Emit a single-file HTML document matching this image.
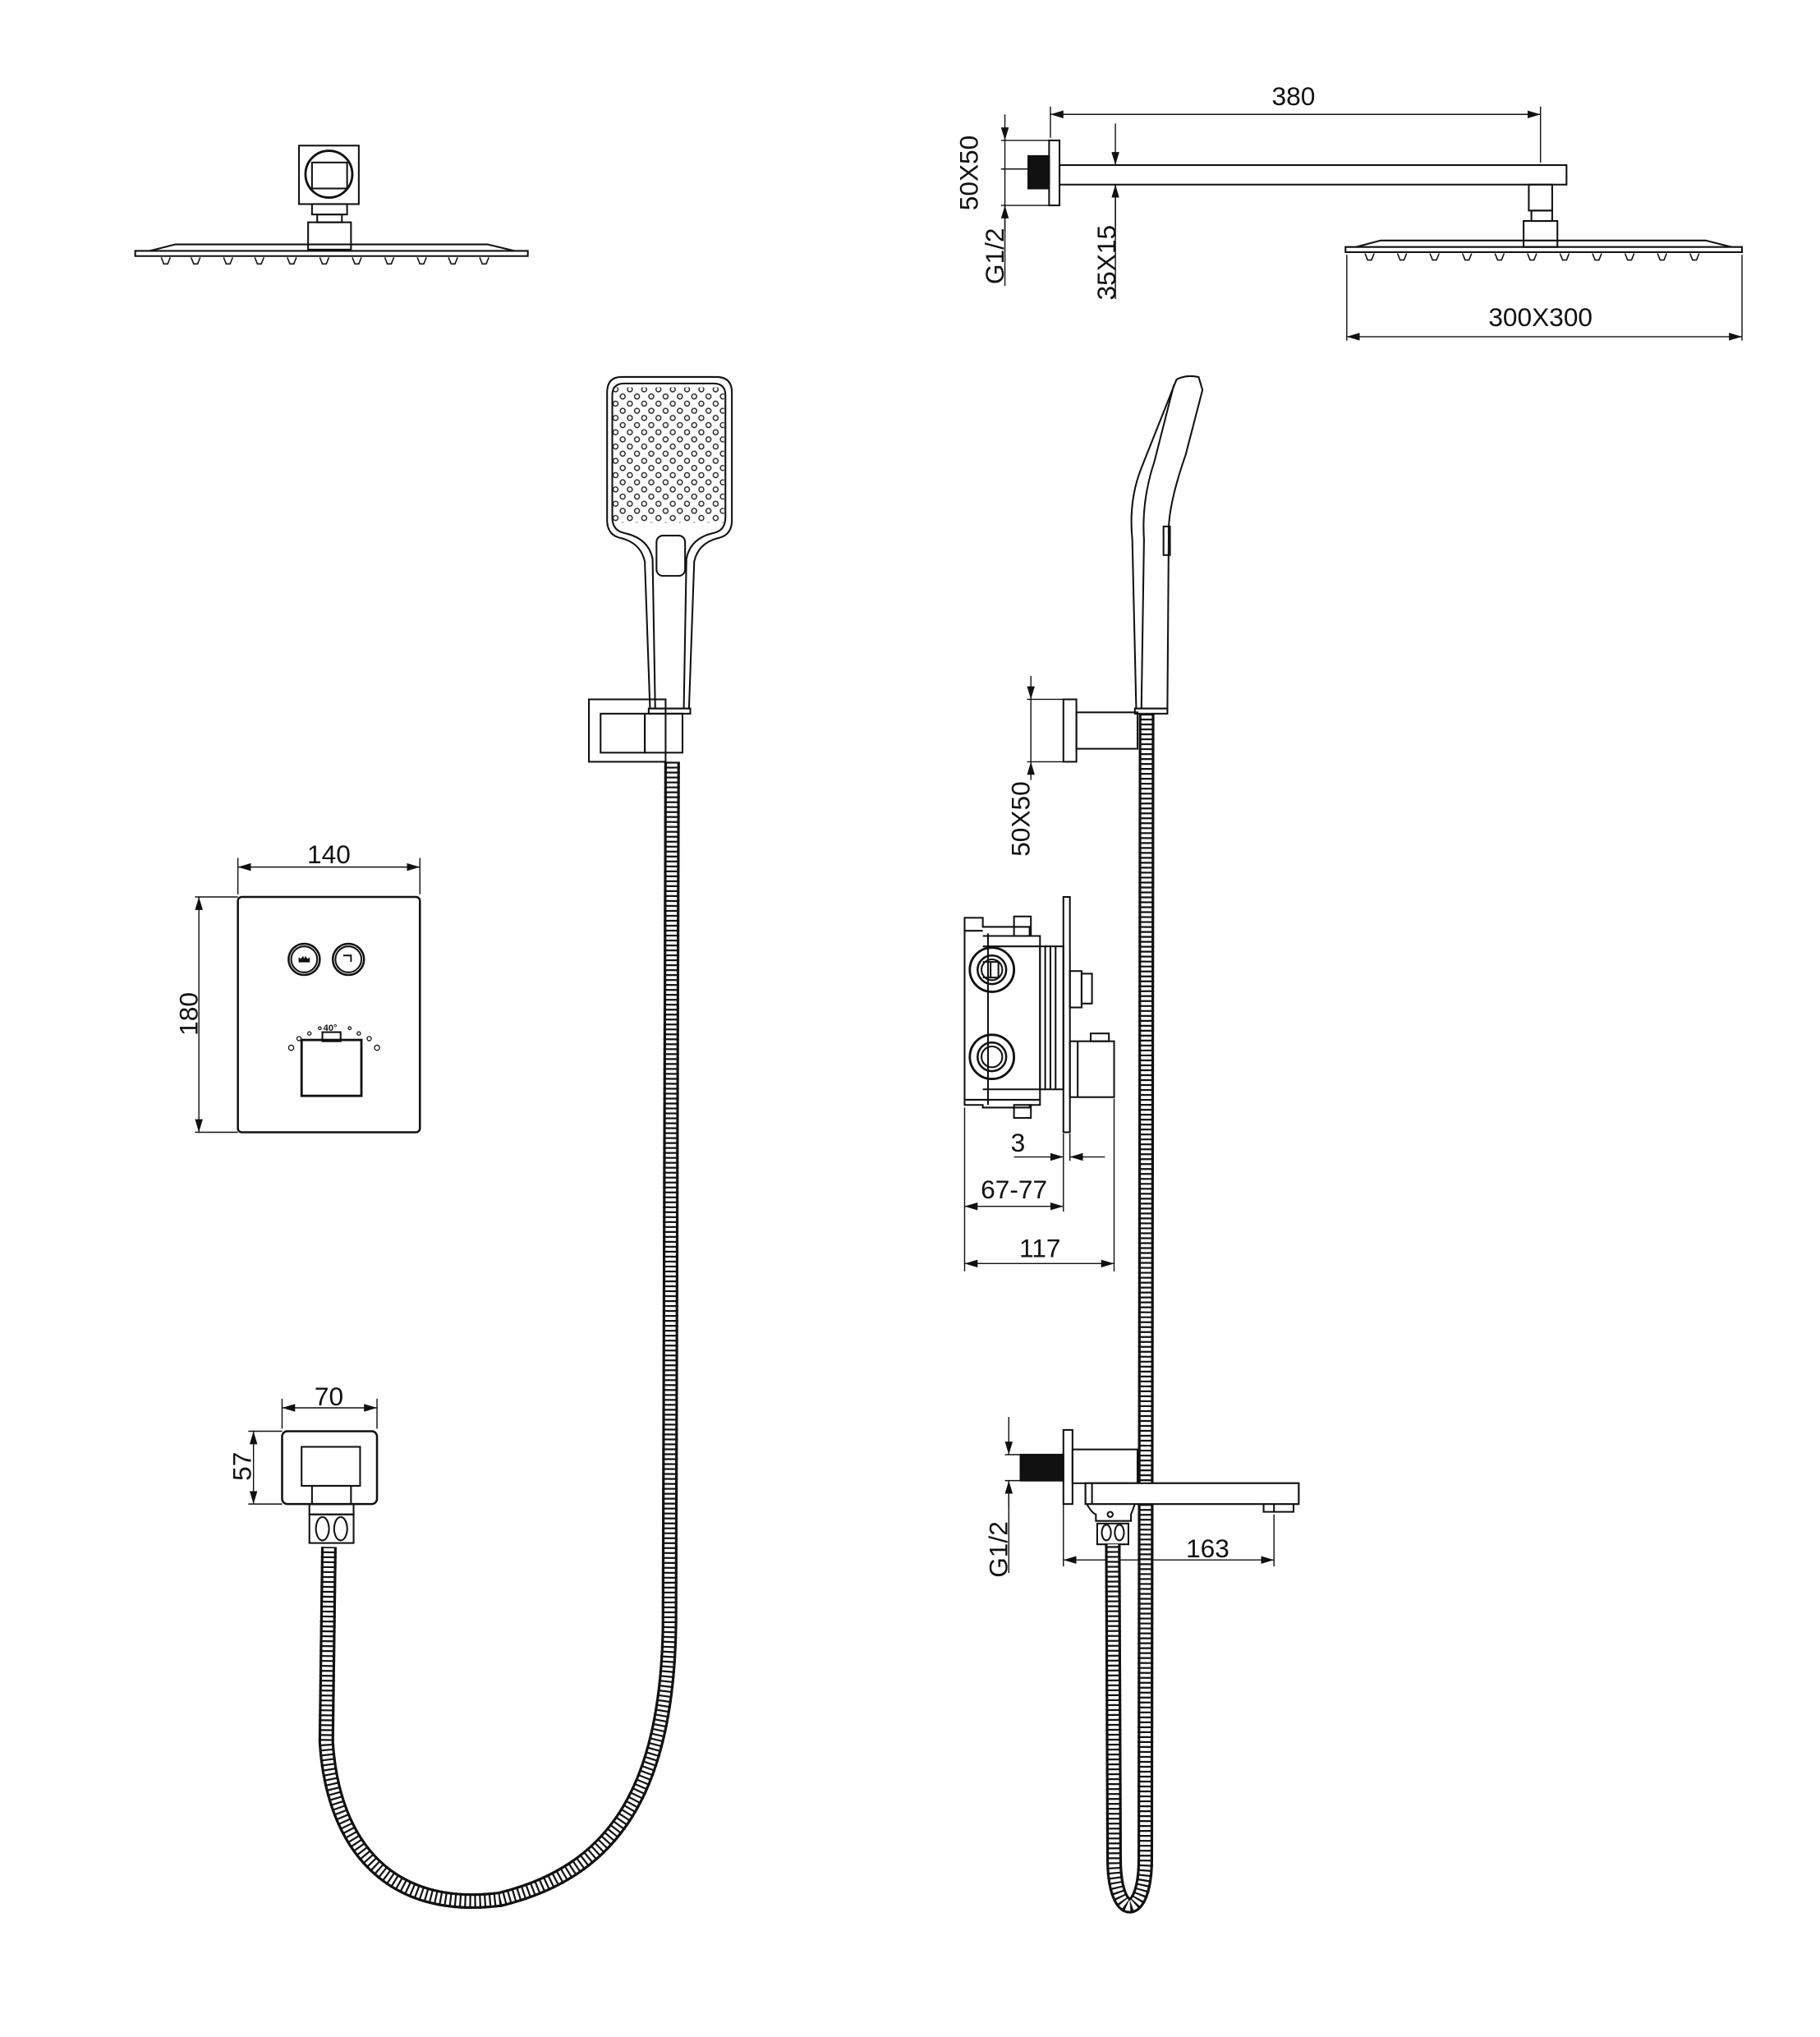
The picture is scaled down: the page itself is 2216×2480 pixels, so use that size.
<!DOCTYPE html>
<html><head><meta charset="utf-8"><style>
html,body{margin:0;padding:0;background:#fff}
svg{display:block}
text{font-family:"Liberation Sans",sans-serif;fill:#111}
</style></head><body>
<svg width="2216" height="2480" viewBox="0 0 1400 1567" preserveAspectRatio="none" xmlns="http://www.w3.org/2000/svg">
<defs>
<marker id="a" viewBox="0 0 10 6" refX="10" refY="3" markerWidth="10" markerHeight="6" markerUnits="userSpaceOnUse" orient="auto-start-reverse"><path d="M0,0 L10,3 L0,6z" fill="#111"/></marker>
<pattern id="dots" x="471" y="297" width="11" height="11" patternUnits="userSpaceOnUse">
<circle cx="2.5" cy="2.5" r="1.9" fill="none" stroke="#222" stroke-width="0.9"/>
<circle cx="8" cy="8" r="1.9" fill="none" stroke="#222" stroke-width="0.9"/>
</pattern>
</defs>
<g fill="none" stroke="#111" stroke-width="1.3">

<!-- top-left rain shower front -->
<rect x="230" y="112" width="46" height="45"/>
<circle cx="253" cy="134" r="18" stroke-width="1.8"/>
<rect x="240" y="125" width="27" height="20"/>
<rect x="240" y="157" width="27" height="8"/>
<rect x="244" y="165" width="19" height="6"/>
<rect x="237" y="171" width="33" height="21"/>
<path d="M104,193 H406 V197 H104Z"/>
<path d="M115,193 L135,188 H375 L396,193"/>
<g stroke-width="1">
<path d="M124,198 l2,5 h3 l2,-5 M147,198 l2,5 h3 l2,-5 M172,198 l2,5 h3 l2,-5 M196,198 l2,5 h3 l2,-5 M221,198 l2,5 h3 l2,-5 M246,198 l2,5 h3 l2,-5 M271,198 l2,5 h3 l2,-5 M296,198 l2,5 h3 l2,-5 M321,198 l2,5 h3 l2,-5 M345,198 l2,5 h3 l2,-5 M369,198 l2,5 h3 l2,-5"/>
</g>

<!-- top-right arm -->
<rect x="807" y="108" width="8" height="50"/>
<rect x="791" y="120" width="16" height="25" fill="#111"/>
<rect x="815" y="127" width="390" height="15"/>
<rect x="1176" y="142" width="18" height="20"/>
<rect x="1178" y="162" width="16" height="8"/>
<rect x="1172" y="170" width="26" height="20"/>
<path d="M1035,190 H1340 V194 H1035Z"/>
<path d="M1043,190 L1062,185 H1312 L1332,190"/>
<g stroke-width="1">
<path d="M1050,195 l2,5 h3 l2,-5 M1075,195 l2,5 h3 l2,-5 M1100,195 l2,5 h3 l2,-5 M1125,195 l2,5 h3 l2,-5 M1150,195 l2,5 h3 l2,-5 M1175,195 l2,5 h3 l2,-5 M1200,195 l2,5 h3 l2,-5 M1225,195 l2,5 h3 l2,-5 M1250,195 l2,5 h3 l2,-5 M1275,195 l2,5 h3 l2,-5 M1300,195 l2,5 h3 l2,-5"/>
</g>
<g stroke-width="0.9">
<path d="M808,106 V82 M1185,125 V82"/>
<path d="M808,88 H1185" marker-start="url(#a)" marker-end="url(#a)"/>
<path d="M770,108 H807 M770,158 H807 M770,130 H791"/>
<path d="M773,88 V108" marker-end="url(#a)"/><path d="M773,178 V158" marker-end="url(#a)"/>
<path d="M773,108 V158"/>
<path d="M773,158 V220"/>
<path d="M858,95 V127" marker-end="url(#a)"/><path d="M858,175 V142" marker-end="url(#a)"/>
<path d="M858,142 V230"/>
<path d="M1036,196 V262 M1340,196 V262"/>
<path d="M1036,259 H1340" marker-start="url(#a)" marker-end="url(#a)"/>
</g>

<!-- hand shower front -->
<path d="M478,290 H551 Q563,290 563,302 V400 Q563,412 552,414 Q537,418 534,432 L530,545 H500 L496,432 Q493,418 478,414 Q467,412 467,400 V302 Q467,290 478,290Z"/>
<path d="M480,295 H549 Q558,295 558,304 V398 Q558,408 549,410 Q531,414 528,430 L526,545 M480,295 Q471,295 471,304 V398 Q471,408 480,410 Q499,414 502,430 L504,545"/>
<rect x="471" y="298" width="86" height="104" fill="url(#dots)" stroke="none"/>
<rect x="505" y="412" width="22" height="31" rx="5"/>
<rect x="499" y="545" width="32" height="4"/>
<rect x="453" y="538" width="59" height="48"/>
<rect x="462" y="549" width="34" height="30"/>
<rect x="496" y="549" width="29" height="30"/>

<!-- hand shower side -->
<path d="M871,415 Q868,385 878,360 L905,292 Q912,288 922,290 L925,300 L912,350 Q898,390 899,412 L898,545 H874 Z"/>
<path d="M903,296 L888,355 Q878,385 880,415 L878,545"/>
<rect x="895" y="405" width="5" height="22"/>
<rect x="873" y="545" width="25" height="4"/>
<rect x="818" y="538" width="10" height="48"/>
<rect x="828" y="548" width="47" height="28"/>
<g stroke-width="0.9">
<path d="M793,520 V538" marker-end="url(#a)"/><path d="M793,600 V586" marker-end="url(#a)"/>
<path d="M793,538 V586 M790,538 H818 M790,586 H818"/>
</g>

<!-- control panel -->
<rect x="183" y="690" width="140" height="181" rx="3" stroke-width="1.6"/>
<circle cx="234" cy="738" r="12" stroke-width="1.6"/><circle cx="234" cy="738" r="10"/>
<circle cx="268" cy="738" r="12" stroke-width="1.6"/><circle cx="268" cy="738" r="10"/>
<path d="M230,740 h8 v-3 l-1.5,1 -1.5,-2 -1,2 -1,-2 -1.5,2 -1.5,-1z" fill="#111" stroke-width="0.6"/>
<path d="M264,735 h6 v5" stroke-width="1.2"/>
<rect x="232" y="800" width="46" height="43" stroke-width="1.8"/>
<rect x="248" y="794" width="14" height="7"/>
<g stroke-width="0.8"><circle cx="224" cy="806" r="2"/><circle cx="230" cy="799" r="1.6"/><circle cx="238" cy="795" r="1.3"/><circle cx="246" cy="791" r="1.1"/><circle cx="269" cy="791" r="1.1"/><circle cx="276" cy="795" r="1.3"/><circle cx="284" cy="799" r="1.6"/><circle cx="290" cy="806" r="2"/></g>
<g stroke-width="0.9">
<path d="M183,688 V660 M323,688 V660"/>
<path d="M183,667 H323" marker-start="url(#a)" marker-end="url(#a)"/>
<path d="M150,690 H183 M150,871 H183"/>
<path d="M153,690 V871" marker-start="url(#a)" marker-end="url(#a)"/>
</g>

<!-- valve box -->
<path d="M742,706 H756 V713 H792 V720 H800 V850 H792 V852 H756 V850 H742 Z"/>
<path d="M742,716 H756 M742,846 H756 M756,720 H800 M756,728 H800 M756,838 H800 M756,846 H800 M760,718 V850"/>
<rect x="780" y="705" width="13" height="15"/><rect x="780" y="850" width="13" height="10"/>
<rect x="800" y="728" width="18" height="110"/>
<path d="M804,728 V838 M808,728 V838 M812,728 V838"/>
<rect x="818" y="690" width="5" height="181"/>
<rect x="823" y="747" width="9" height="28"/><rect x="832" y="749" width="8" height="23"/>
<rect x="823" y="801" width="34" height="43"/><path d="M829,801 V844"/>
<rect x="839" y="795" width="14" height="6"/>
<circle cx="763" cy="746" r="17" stroke-width="1.8"/><circle cx="763" cy="746" r="11" stroke-width="1.6"/><circle cx="763" cy="746" r="8"/>
<path d="M756,740 H768 V752 H756 M762,740 V752"/>
<circle cx="763" cy="813" r="17" stroke-width="1.8"/><circle cx="763" cy="813" r="11" stroke-width="1.6"/><circle cx="763" cy="813" r="8"/>
<g stroke-width="0.9">
<path d="M742,852 V978 M818,872 V932 M823,872 V893 M857,845 V978"/>
<path d="M780,890 H818" marker-end="url(#a)"/><path d="M850,890 H823" marker-end="url(#a)"/>
<path d="M742,928 H818" marker-start="url(#a)" marker-end="url(#a)"/>
<path d="M742,972 H857" marker-start="url(#a)" marker-end="url(#a)"/>
</g>

<!-- wall elbow bottom-left -->
<rect x="217" y="1101" width="73" height="56" rx="4" stroke-width="1.6"/>
<rect x="232" y="1113" width="45" height="30"/>
<rect x="240" y="1143" width="30" height="14"/>
<rect x="238" y="1157" width="34" height="8"/>
<rect x="238" y="1165" width="34" height="22"/>
<path d="M248,1167 a5,9 0 1,0 0.1,0 M262,1167 a5,9 0 1,0 0.1,0"/>
<g stroke-width="0.9">
<path d="M217,1099 V1076 M290,1099 V1076"/>
<path d="M217,1083 H290" marker-start="url(#a)" marker-end="url(#a)"/>
<path d="M191,1101 H217 M191,1157 H217"/>
<path d="M195,1101 V1157" marker-start="url(#a)" marker-end="url(#a)"/>
</g>

<!-- spout -->
<rect x="818" y="1100" width="7" height="57"/>
<rect x="785" y="1119" width="33" height="20" fill="#111"/>
<rect x="825" y="1115" width="50" height="26"/>
<path d="M835,1141 H999 V1157 H835 Z M840,1141 V1157"/>
<path d="M836,1157 Q840,1164 843,1165 V1170 H870 V1165 L873,1157"/>
<circle cx="854" cy="1165" r="2"/>
<rect x="844" y="1172" width="24" height="16"/>
<path d="M851,1173 a3.5,6 0 1,0 0.1,0 M861,1173 a3.5,6 0 1,0 0.1,0"/>
<path d="M972,1157 V1163 H995 V1157 M980,1157 V1163"/>
<g stroke-width="0.9">
<path d="M776,1090 V1119" marker-end="url(#a)"/><path d="M776,1160 V1139" marker-end="url(#a)"/>
<path d="M773,1119 H785 M773,1139 H785 M776,1139 V1210"/>
<path d="M818,1157 V1205 M980,1165 V1205"/>
<path d="M818,1200 H980" marker-start="url(#a)" marker-end="url(#a)"/>
</g>
</g>

<!-- hoses -->
<g fill="none" stroke-linecap="butt">
<path d="M517,586 L515,1250 C513,1380 470,1440 385,1461 C300,1472 256,1420 251,1340 L253,1190" stroke="#111" stroke-width="12"/>
<path d="M517,586 L515,1250 C513,1380 470,1440 385,1461 C300,1472 256,1420 251,1340 L253,1190" stroke="#fff" stroke-width="8"/>
<path d="M517,586 L515,1250 C513,1380 470,1440 385,1461 C300,1472 256,1420 251,1340 L253,1190" stroke="#111" stroke-width="12" stroke-dasharray="1.4 2.4"/>
<path d="M882,549 L881,1430 C881,1478 857,1478 857,1430 L856,1188" stroke="#111" stroke-width="12"/>
<path d="M882,549 L881,1430 C881,1478 857,1478 857,1430 L856,1188" stroke="#fff" stroke-width="8"/>
<path d="M882,549 L881,1430 C881,1478 857,1478 857,1430 L856,1188" stroke="#111" stroke-width="12" stroke-dasharray="1.4 2.4"/>
</g>
<!-- redraw spout over hose -->
<g fill="#fff" stroke="#111" stroke-width="1.3">
<rect x="835" y="1141" width="164" height="16"/>
<path d="M840,1141 V1157" fill="none"/>
</g>

<!-- labels -->
<g font-size="20">
<text x="995" y="81" text-anchor="middle">380</text>
<text x="1185" y="251" text-anchor="middle">300X300</text>
<text x="253" y="664" text-anchor="middle">140</text>
<text x="783" y="886" text-anchor="middle">3</text>
<text x="780" y="922" text-anchor="middle">67-77</text>
<text x="800" y="967" text-anchor="middle">117</text>
<text x="253" y="1081" text-anchor="middle">70</text>
<text x="929" y="1198" text-anchor="middle">163</text>
<text transform="translate(752,133) rotate(-90)" text-anchor="middle">50X50</text>
<text transform="translate(772,197) rotate(-90)" text-anchor="middle">G1/2</text>
<text transform="translate(858,202) rotate(-90)" text-anchor="middle">35X15</text>
<text transform="translate(792,630) rotate(-90)" text-anchor="middle">50X50</text>
<text transform="translate(152,780) rotate(-90)" text-anchor="middle">180</text>
<text transform="translate(193,1128) rotate(-90)" text-anchor="middle">57</text>
<text transform="translate(775,1192) rotate(-90)" text-anchor="middle">G1/2</text>
</g>
<text x="254" y="793" font-size="7" font-weight="bold" text-anchor="middle">40°</text>
</svg>
</body></html>
